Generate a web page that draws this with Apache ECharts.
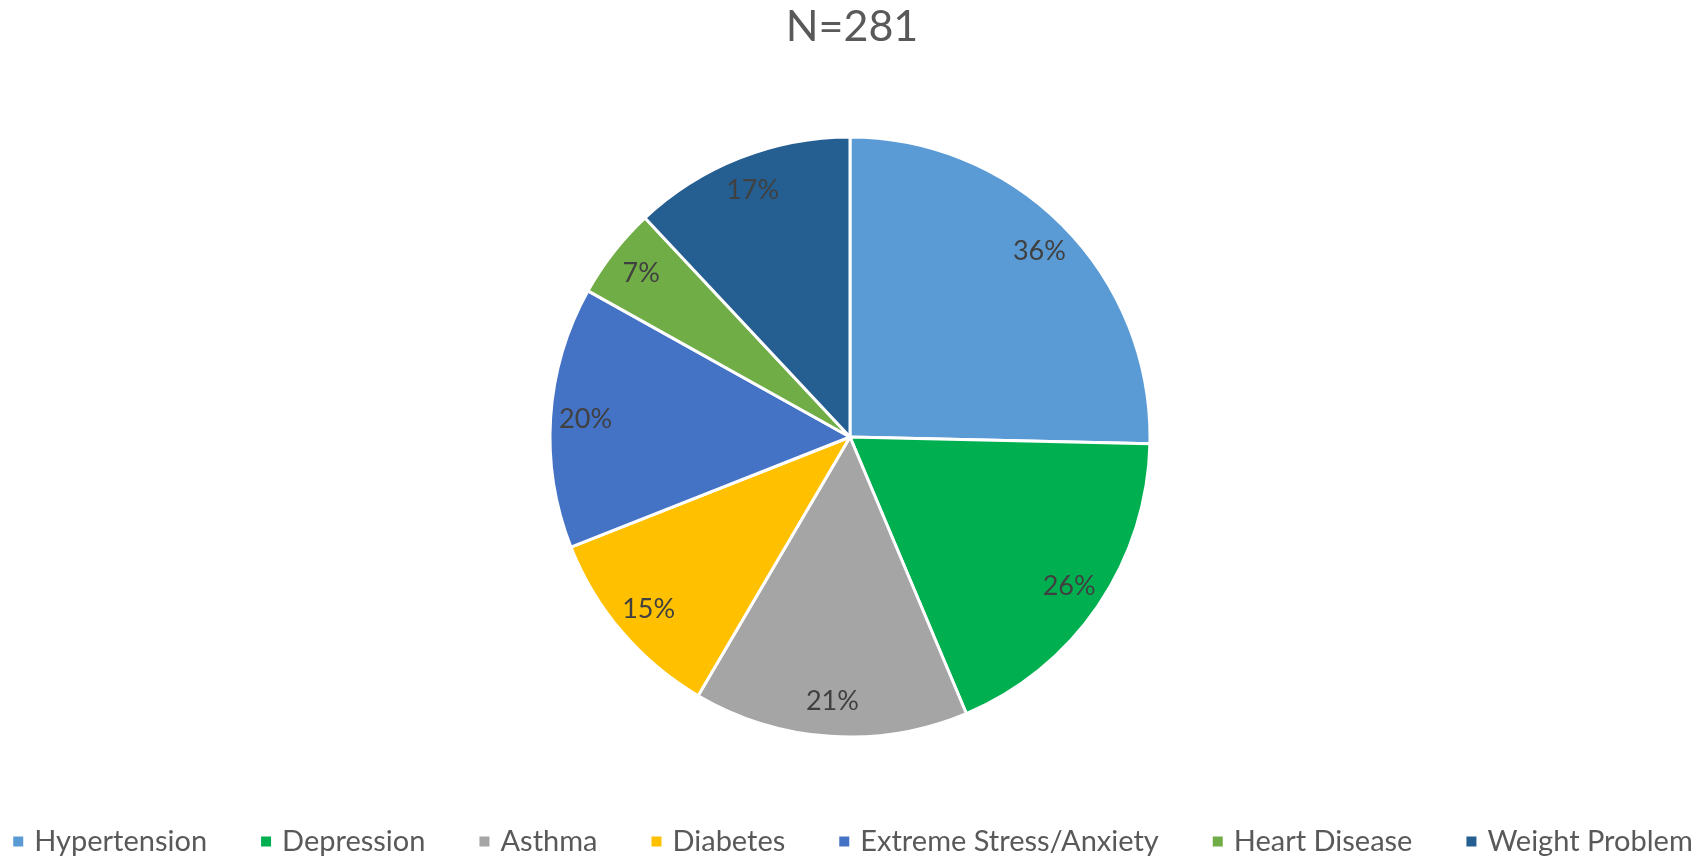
<!DOCTYPE html>
<html>
<head>
<meta charset="utf-8">
<script src="https://cdn.jsdelivr.net/npm/echarts@6/dist/echarts.min.js"></script>
<style>
  html, body { margin: 0; padding: 0; background: #fff; }
  #pieChart { width: 1704px; height: 861px; }
</style>
</head>
<body>
<div id="pieChart"></div>
<script>
  // conditions and share of respondents (%), N=281
  var conditions = ['Hypertension', 'Depression', 'Asthma', 'Diabetes', 'Extreme Stress/Anxiety', 'Heart Disease', 'Weight Problem'];
  var percents = [36, 26, 21, 15, 20, 7, 17];
  var colors = ['#5B9BD5', '#00B050', '#A5A5A5', '#FFC000', '#4472C4', '#70AD47', '#255E91'];

  var pieData = conditions.map(function (name, i) {
    return { name: name, value: percents[i] };
  });

  var chart = echarts.init(document.getElementById('pieChart'));
  var option = {
    color: colors,
    title: {
      text: 'N=281',
      left: 'center',
      top: 1,
      textStyle: { fontFamily: 'Lato', fontSize: 43, fontWeight: 'normal', color: '#595959' }
    },
    legend: {
      data: conditions,
      bottom: 0,
      left: 'center',
      icon: 'rect',
      itemWidth: 12,
      itemHeight: 12,
      itemGap: 52,
      textStyle: { fontFamily: 'Lato', fontSize: 29, color: '#595959', padding: [0, 0, 0, 5] }
    },
    series: [
      {
        // visible slices
        type: 'pie',
        center: [850, 437],
        radius: [0, 300],
        startAngle: 90,
        data: pieData,
        label: { show: false },
        labelLine: { show: false },
        itemStyle: { borderColor: '#fff', borderWidth: 3 },
        emphasis: { disabled: true }
      },
      {
        // transparent copy, only used to push labels out to ~0.87 r
        type: 'pie',
        center: [850, 437],
        radius: [0, 524],
        startAngle: 90,
        silent: true,
        data: pieData,
        itemStyle: { color: 'rgba(0,0,0,0)' },
        label: {
          show: true,
          position: 'inside',
          formatter: '{c}%',
          fontFamily: 'Lato',
          fontSize: 27,
          color: '#404040'
        },
        labelLine: { show: false },
        emphasis: { disabled: true }
      }
    ]
  };
  chart.setOption(option);
</script>
</body>
</html>
